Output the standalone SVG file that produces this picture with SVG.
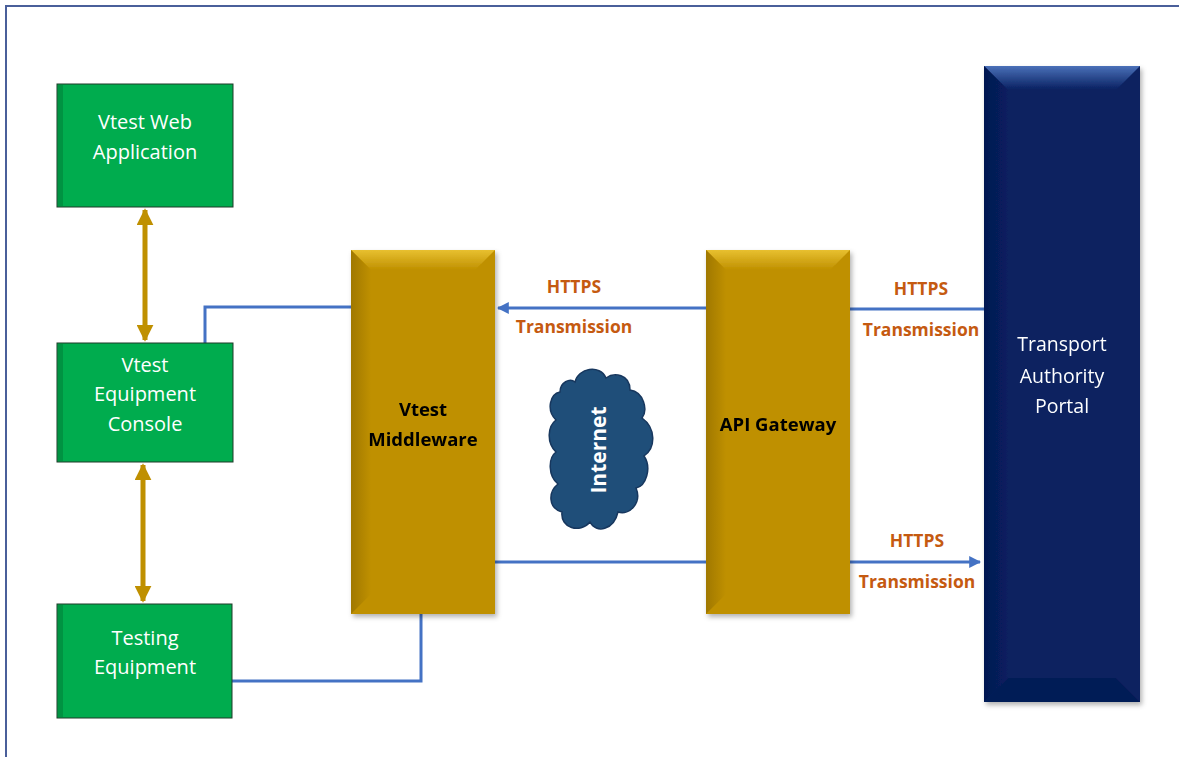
<svg xmlns="http://www.w3.org/2000/svg" width="1179" height="757" viewBox="0 0 1179 757">
<defs>
<style>
.gtxt{font-family:"Open Sans","DejaVu Sans",sans-serif;font-size:20px;fill:#ffffff;text-anchor:middle}
.btxt{font-family:"Open Sans","DejaVu Sans",sans-serif;font-size:18.5px;font-weight:bold;fill:#000000;text-anchor:middle}
.ptxt{font-family:"Open Sans","DejaVu Sans",sans-serif;font-size:19.5px;fill:#ffffff;text-anchor:middle}
.lbl{font-family:"Open Sans","DejaVu Sans",sans-serif;font-size:17.5px;font-weight:bold;fill:#c55a11;text-anchor:middle}
.blue{fill:none;stroke:#4472c4;stroke-width:3}
.gold{fill:none;stroke:#bf9000;stroke-width:5}
</style>
<linearGradient id="gTop" x1="0" y1="0" x2="0" y2="1"><stop offset="0" stop-color="#e8c030"/><stop offset="1" stop-color="#bf9000"/></linearGradient>
<linearGradient id="nTop" x1="0" y1="0" x2="0" y2="1"><stop offset="0" stop-color="#4a70b8"/><stop offset="1" stop-color="#082060"/></linearGradient>
<linearGradient id="gLeft" x1="0" y1="0" x2="1" y2="0"><stop offset="0" stop-color="#a07800"/><stop offset="1" stop-color="#bf9000"/></linearGradient>
<linearGradient id="nLeft" x1="0" y1="0" x2="1" y2="0"><stop offset="0" stop-color="#041850"/><stop offset="1" stop-color="#082060"/></linearGradient>
<filter id="sh" x="-20%" y="-20%" width="140%" height="140%"><feDropShadow dx="2" dy="3" stdDeviation="2.5" flood-color="#000" flood-opacity="0.3"/></filter>
<marker id="arrB" viewBox="0 0 10 10" refX="9" refY="5" markerWidth="4" markerHeight="4" orient="auto-start-reverse"><path d="M0,0 L10,5 L0,10 z" fill="#4472c4"/></marker>
<marker id="arrG" viewBox="0 0 10 10" refX="9" refY="5" markerWidth="3.4" markerHeight="3.4" orient="auto-start-reverse"><path d="M0,0 L10,5 L0,10 z" fill="#bf9000"/></marker>
</defs>
<rect x="0" y="0" width="1179" height="757" fill="#ffffff"/>
<path d="M6,757 L6,6 L1179,6" fill="none" stroke="#4a5f9a" stroke-width="2"/>

<g id="connectors">
<line class="gold" x1="145" y1="210" x2="145" y2="340" marker-start="url(#arrG)" marker-end="url(#arrG)"/>
<line class="gold" x1="143" y1="465" x2="143" y2="601" marker-start="url(#arrG)" marker-end="url(#arrG)"/>
<path class="blue" d="M205,343 L205,307 L351,307"/>
<line class="blue" x1="706" y1="308" x2="498" y2="308" marker-end="url(#arrB)"/>
<line class="blue" x1="850" y1="309" x2="984" y2="309"/>
<line class="blue" x1="495" y1="562" x2="706" y2="562"/>
<line class="blue" x1="850" y1="562" x2="980" y2="562" marker-end="url(#arrB)"/>
<path class="blue" d="M421,614 L421,681 L232,681"/>
<text class="lbl" x="574" y="293">HTTPS</text>
<text class="lbl" x="574" y="333">Transmission</text>
<text class="lbl" x="921" y="295">HTTPS</text>
<text class="lbl" x="921" y="336">Transmission</text>
<text class="lbl" x="917" y="547">HTTPS</text>
<text class="lbl" x="917" y="588">Transmission</text>
</g>

<g id="web-app">
<rect x="57" y="84" width="176" height="123" fill="#00ac4e" stroke="#1f3b28" stroke-width="1"/>
<rect x="58" y="85" width="5" height="121" fill="#007a36" opacity="0.5"/>
<text class="gtxt" x="145" y="129">Vtest Web</text>
<text class="gtxt" x="145" y="159">Application</text>
</g>

<g id="equipment-console">
<rect x="57" y="343" width="176" height="119" fill="#00ac4e" stroke="#1f3b28" stroke-width="1"/>
<rect x="58" y="344" width="5" height="117" fill="#007a36" opacity="0.5"/>
<text class="gtxt" x="145" y="372">Vtest</text>
<text class="gtxt" x="145" y="401">Equipment</text>
<text class="gtxt" x="145" y="431">Console</text>
</g>

<g id="testing-equipment">
<rect x="57" y="604" width="175" height="114" fill="#00ac4e" stroke="#1f3b28" stroke-width="1"/>
<rect x="58" y="605" width="5" height="112" fill="#007a36" opacity="0.5"/>
<text class="gtxt" x="145" y="645">Testing</text>
<text class="gtxt" x="145" y="674">Equipment</text>
</g>

<g id="middleware" filter="url(#sh)">
<rect x="351" y="250" width="144" height="364" fill="#bf9000"/>
<polygon points="351,250 495,250 475,270 371,270" fill="url(#gTop)"/>
<polygon points="351,250 371,270 371,594 351,614" fill="url(#gLeft)"/>
<text class="btxt" x="423" y="416">Vtest</text>
<text class="btxt" x="423" y="446">Middleware</text>
</g>

<g id="api-gateway" filter="url(#sh)">
<rect x="706" y="250" width="144" height="364" fill="#bf9000"/>
<polygon points="706,250 850,250 830,270 726,270" fill="url(#gTop)"/>
<polygon points="706,250 726,270 726,594 706,614" fill="url(#gLeft)"/>
<text class="btxt" x="778" y="431">API Gateway</text>
</g>

<g id="internet">
<path d="M575,382 C578,368 600,364 606,378 C614,372 630,374 630,390 C644,392 648,410 642,418 C656,428 656,448 644,456 C652,468 646,486 636,488 C642,502 630,516 618,512 C614,530 596,534 590,522 C580,534 560,528 562,512 C548,508 548,492 558,484 C548,476 548,458 556,452 C546,442 548,426 556,420 C546,410 550,394 560,392 C560,382 570,378 575,382 Z" fill="#1f4e79" stroke="#17375e" stroke-width="1.5"/>
<text x="600" y="450" transform="rotate(-90 600 450)" style="font-family:'Open Sans','DejaVu Sans',sans-serif;font-size:21px;font-weight:bold;fill:#ffffff;text-anchor:middle;dominant-baseline:middle">Internet</text>
</g>

<g id="transport-portal" filter="url(#sh)">
<rect x="984" y="66" width="156" height="636" fill="#082060"/>
<polygon points="984,66 1140,66 1116,90 1008,90" fill="url(#nTop)"/>
<polygon points="984,66 1008,90 1008,678 984,702" fill="url(#nLeft)"/>
<polygon points="984,702 1008,678 1116,678 1140,702" fill="#061c56"/>
<text class="ptxt" x="1062" y="351">Transport</text>
<text class="ptxt" x="1062" y="383">Authority</text>
<text class="ptxt" x="1062" y="413">Portal</text>
</g>
</svg>
